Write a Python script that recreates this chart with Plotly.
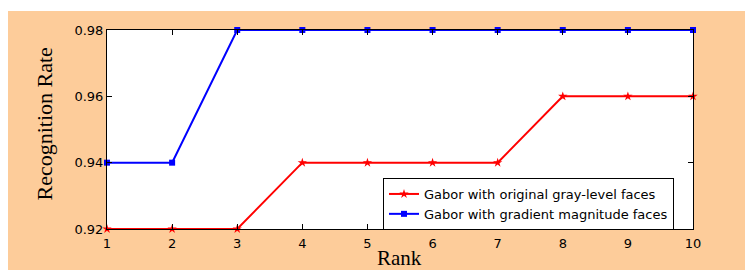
import plotly.graph_objects as go

ranks = [1, 2, 3, 4, 5, 6, 7, 8, 9, 10]
gray_level = [0.92, 0.92, 0.92, 0.94, 0.94, 0.94, 0.94, 0.96, 0.96, 0.96]
gradient_mag = [0.94, 0.94, 0.98, 0.98, 0.98, 0.98, 0.98, 0.98, 0.98, 0.98]
y_ticks = [0.92, 0.94, 0.96, 0.98]
y_tick_labels = ["0.92", "0.94", "0.96", "0.98"]
series_names = ["Gabor with original gray-level faces", "Gabor with gradient magnitude faces"]

PEACH = "#FDCC9A"
tick_font = dict(family="DejaVu Sans", size=13, color="black")

# figure is placed at (8, 8) inside the page by the body margin
W, H = 745, 262
L, R, T, B = 99, 60, 22, 41
PW, PH = W - L - R, H - T - B

fig = go.Figure()
fig.add_trace(go.Scatter(
    x=ranks, y=gray_level, name=series_names[0], mode="lines+markers",
    line=dict(color="#FF0000", width=2),
    marker=dict(symbol="star", size=7, color="#FF0000"),
    cliponaxis=False,
))
fig.add_trace(go.Scatter(
    x=ranks, y=gradient_mag, name=series_names[1], mode="lines+markers",
    line=dict(color="#0000FF", width=2),
    marker=dict(symbol="square", size=6, color="#0000FF"),
    cliponaxis=False,
))

axis_common = dict(
    showgrid=False, zeroline=False, showline=True, linecolor="black", linewidth=1,
    mirror="ticks", ticks="inside", ticklen=5, tickcolor="black", tickfont=tick_font,
)
fig.update_xaxes(range=[1, 10], tickvals=ranks, ticklabelstandoff=2, **axis_common)
fig.update_yaxes(range=[0.92, 0.98], tickvals=y_ticks, ticktext=y_tick_labels, **axis_common)

fig.update_layout(
    width=W, height=H,
    margin=dict(l=L, r=R, t=T, b=B),
    paper_bgcolor=PEACH, plot_bgcolor="white",
    showlegend=True,
    legend=dict(
        x=(375 - L) / PW, y=(T + PH - 170) / PH, xanchor="left", yanchor="top",
        bgcolor="white", bordercolor="black", borderwidth=1,
        font=dict(family="DejaVu Sans", size=13, color="black"),
        tracegroupgap=0, itemwidth=30,
    ),
    shapes=[
        dict(type="rect", xref="paper", yref="paper", x0=-0.3, x1=1.3,
             y0=(T + PH - 3) / PH, y1=1.3, fillcolor="white", line=dict(width=0), layer="below"),
    ],
    annotations=[
        dict(text="Rank", xref="paper", yref="paper", x=(391 - L) / PW, y=(T + PH - 250) / PH,
             showarrow=False, xanchor="center", yanchor="middle",
             font=dict(family="Liberation Serif", size=21, color="black")),
        dict(text="Recognition Rate", xref="paper", yref="paper", x=(36 - L) / PW,
             y=(T + PH - 116.5) / PH,
             showarrow=False, xanchor="center", yanchor="middle", textangle=-90,
             font=dict(family="Liberation Serif", size=22, color="black")),
    ],
)

fig.write_html("out.html")
